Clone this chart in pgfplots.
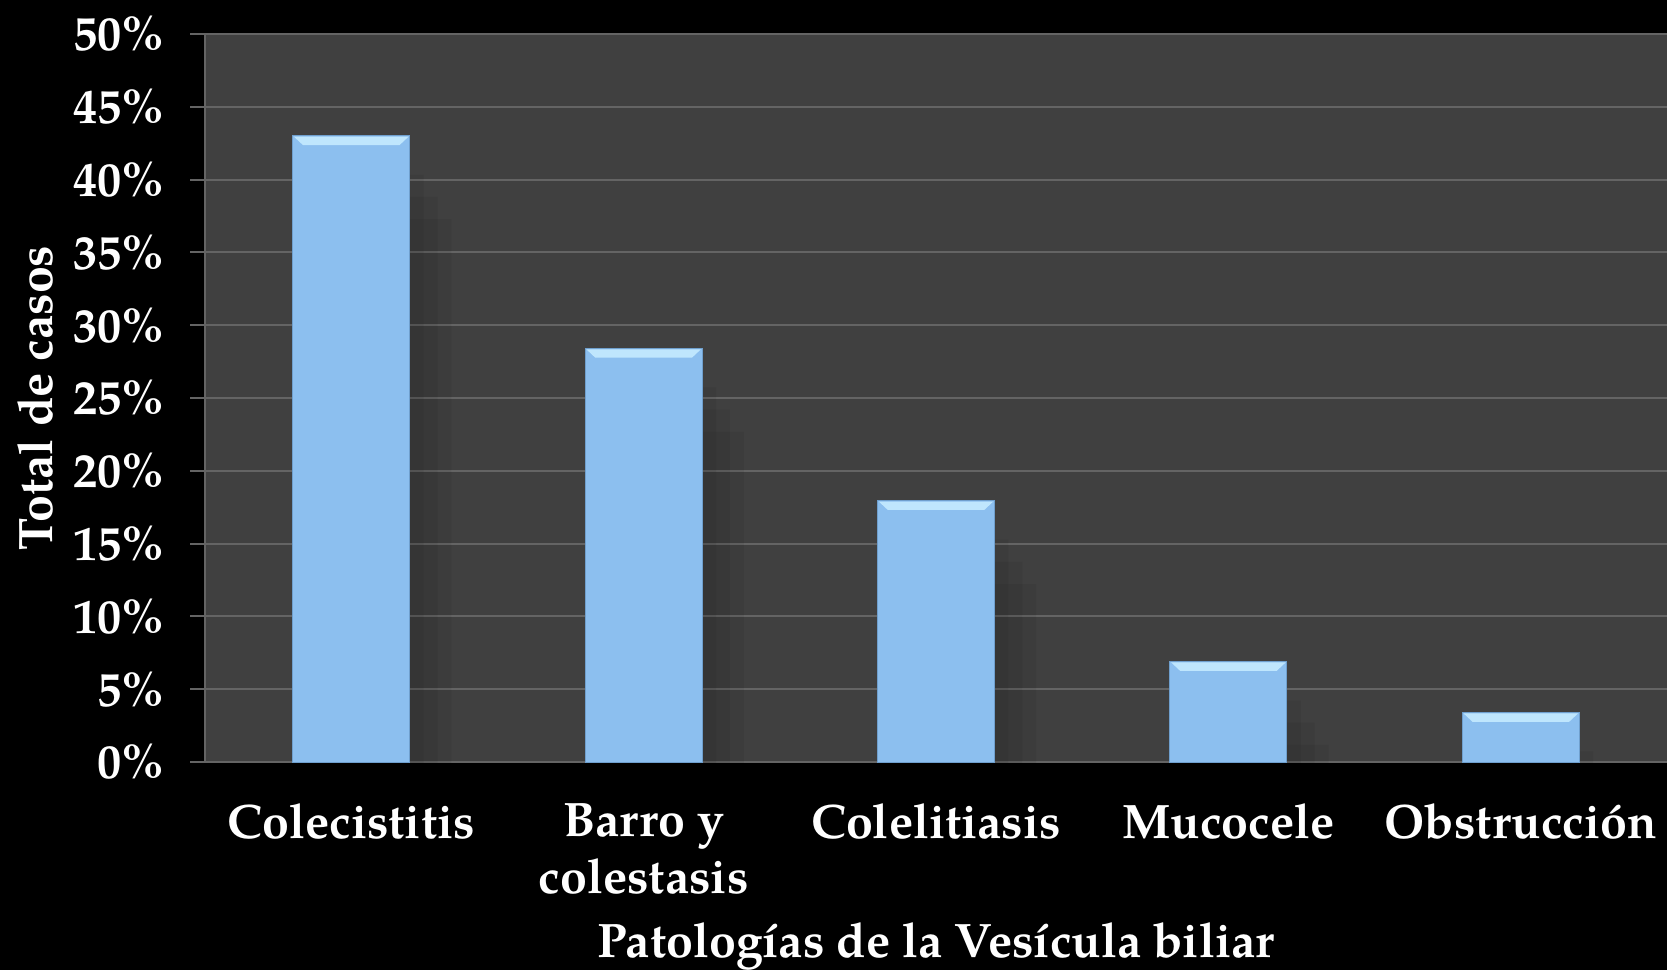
\documentclass[border=0pt]{standalone}
\usepackage{fontspec}
\setmainfont{texgyrepagella}[Extension=.otf, UprightFont=*-regular, BoldFont=*-bold, ItalicFont=*-italic, BoldItalicFont=*-bolditalic]
\usepackage{pgfplots}
\pgfplotsset{compat=1.18}
\definecolor{plotbg}{HTML}{404040}
\definecolor{gridc}{HTML}{646464}
\definecolor{barc}{HTML}{8CBFEF}
\definecolor{baredge}{HTML}{6F9FCD}
\definecolor{bevelc}{HTML}{BFE6FD}
\pgfdeclareplotmark{bevel}{%
  \pgfsetfillcolor{bevelc}%
  \pgfpathmoveto{\pgfqpoint{-20.6pt}{-0.3pt}}%
  \pgfpathlineto{\pgfqpoint{20.6pt}{-0.3pt}}%
  \pgfpathlineto{\pgfqpoint{17.4pt}{-3.3pt}}%
  \pgfpathlineto{\pgfqpoint{-17.4pt}{-3.3pt}}%
  \pgfpathclose
  \pgfusepath{fill}%
}
\begin{document}
\begin{tikzpicture}
\fill[black] (0,0) rectangle (600pt,349.1pt);
\begin{axis}[
  at={(73.8pt,74.8pt)}, anchor=south west,
  scale only axis, width=526.2pt, height=262.1pt,
  axis background/.style={fill=plotbg},
  xmin=-0.5, xmax=4.5, ymin=0, ymax=50,
  xtick=data,
  xticklabels={Colecistitis,{Barro y\\colestasis},Colelitiasis,Mucocele,Obstrucción},
  ytick={0,5,...,50},
  yticklabels={0\%,5\%,10\%,15\%,20\%,25\%,30\%,35\%,40\%,45\%,50\%},
  axis x line*=bottom, axis y line*=left,
  axis line style={draw=gridc, line width=0.7pt, -},
  ymajorgrids, grid style={draw=gridc, line width=0.7pt},
  major tick length=5.4pt,
  xtick style={draw=none},
  ytick style={draw=gridc, line width=0.7pt},
  tick align=outside,
  tick label style={font=\bfseries\fontsize{17.4}{20.5}\selectfont, text=white},
  yticklabel style={anchor=east, inner sep=0pt, xshift=-8.9pt},
  xticklabel style={anchor=north, align=center, inner sep=0pt, yshift=-9.5pt},
  xlabel={Patologías de la Vesícula biliar},
  ylabel={Total de casos},
  label style={font=\bfseries\fontsize{17.4}{20.5}\selectfont, text=white},
  xlabel style={at={(rel axis cs:0.5,-0.2678)}, anchor=base, inner sep=0pt},
  ylabel style={at={(rel axis cs:-0.1163,0.5)}, anchor=center, inner sep=0pt},
]
\addplot[ybar, bar width=42.1pt, fill=barc, draw=baredge, line width=0.4pt,
  preaction={draw=none, fill=black, fill opacity=0.06, transform canvas={xshift=5pt, yshift=-14pt}},
  preaction={draw=none, fill=black, fill opacity=0.06, transform canvas={xshift=10pt, yshift=-22pt}},
  preaction={draw=none, fill=black, fill opacity=0.05, transform canvas={xshift=15pt, yshift=-30pt}},
  mark=bevel] coordinates {(0,43.0) (1,28.4) (2,17.95) (3,6.9) (4,3.4)};
\end{axis}
\pgfresetboundingbox
\useasboundingbox (0,0) rectangle (600pt,349.1pt);
\end{tikzpicture}
\end{document}
